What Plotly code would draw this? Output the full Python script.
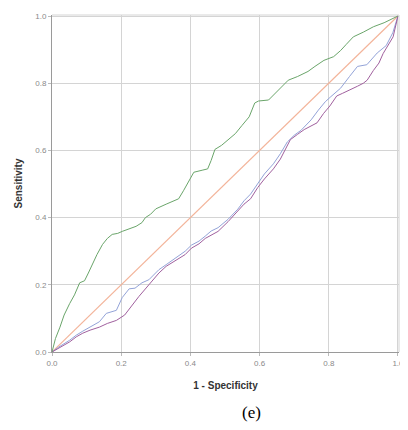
import plotly.graph_objects as go

# ---- data ----
green_x = [0, 0.01, 0.023, 0.035, 0.051, 0.065, 0.08, 0.094, 0.105, 0.117, 0.13, 0.146, 0.16, 0.174,
           0.19, 0.203, 0.22, 0.243, 0.26, 0.27, 0.285, 0.3, 0.33, 0.366, 0.38, 0.394, 0.41, 0.434,
           0.45, 0.46, 0.471, 0.49, 0.511, 0.53, 0.549, 0.57, 0.586, 0.597, 0.626, 0.65, 0.683, 0.71,
           0.74, 0.76, 0.786, 0.814, 0.834, 0.85, 0.871, 0.9, 0.929, 0.96, 0.98, 1.0]
green_y = [0, 0.04, 0.074, 0.11, 0.144, 0.17, 0.206, 0.212, 0.235, 0.262, 0.29, 0.32, 0.338, 0.35,
           0.353, 0.359, 0.365, 0.374, 0.385, 0.40, 0.41, 0.426, 0.44, 0.456, 0.48, 0.506, 0.535, 0.541,
           0.545, 0.57, 0.603, 0.615, 0.632, 0.65, 0.674, 0.70, 0.741, 0.747, 0.75, 0.775, 0.809, 0.82,
           0.835, 0.85, 0.868, 0.879, 0.897, 0.915, 0.938, 0.952, 0.968, 0.98, 0.99, 1.0]

purple_x = [0, 0.02, 0.051, 0.07, 0.089, 0.11, 0.137, 0.16, 0.186, 0.21, 0.231, 0.251, 0.28, 0.309,
            0.33, 0.366, 0.385, 0.403, 0.425, 0.443, 0.46, 0.48, 0.509, 0.537, 0.555, 0.574, 0.595,
            0.614, 0.64, 0.66, 0.689, 0.71, 0.729, 0.766, 0.785, 0.803, 0.823, 0.84, 0.86, 0.883, 0.9,
            0.911, 0.929, 0.945, 0.957, 0.97, 0.986, 1.0]
purple_y = [0, 0.012, 0.03, 0.045, 0.056, 0.065, 0.074, 0.085, 0.094, 0.11, 0.14, 0.165, 0.2, 0.235,
            0.255, 0.279, 0.29, 0.309, 0.322, 0.338, 0.348, 0.359, 0.388, 0.418, 0.44, 0.456, 0.49,
            0.515, 0.545, 0.574, 0.632, 0.648, 0.662, 0.682, 0.71, 0.732, 0.762, 0.77, 0.779, 0.791, 0.8,
            0.809, 0.838, 0.86, 0.888, 0.91, 0.938, 1.0]

blue_x = [0, 0.02, 0.051, 0.07, 0.089, 0.11, 0.137, 0.157, 0.186, 0.203, 0.223, 0.24, 0.26, 0.28,
          0.309, 0.33, 0.366, 0.385, 0.403, 0.425, 0.443, 0.46, 0.48, 0.509, 0.537, 0.555, 0.574,
          0.595, 0.614, 0.64, 0.66, 0.68, 0.7, 0.72, 0.749, 0.77, 0.79, 0.806, 0.834, 0.86, 0.883,
          0.91, 0.94, 0.966, 0.985, 1.0]
blue_y = [0, 0.015, 0.035, 0.05, 0.062, 0.075, 0.09, 0.115, 0.124, 0.162, 0.188, 0.19, 0.206, 0.215,
          0.245, 0.26, 0.285, 0.3, 0.318, 0.33, 0.345, 0.36, 0.37, 0.395, 0.425, 0.45, 0.47, 0.5,
          0.53, 0.56, 0.59, 0.625, 0.645, 0.66, 0.691, 0.72, 0.745, 0.76, 0.785, 0.82, 0.85, 0.855,
          0.89, 0.912, 0.95, 1.0]

ref_x = [0, 1]
ref_y = [0, 1]

tick_vals = [0, 0.2, 0.4, 0.6, 0.8, 1.0]
tick_text = ["0.0", "0.2", "0.4", "0.6", "0.8", "1.0"]

fig = go.Figure()
fig.add_trace(go.Scatter(x=ref_x, y=ref_y, mode="lines", line=dict(color="#f3b49a", width=1.2)))
fig.add_trace(go.Scatter(x=blue_x, y=blue_y, mode="lines", line=dict(color="#93a3d8", width=1)))
fig.add_trace(go.Scatter(x=purple_x, y=purple_y, mode="lines", line=dict(color="#a0609e", width=1)))
fig.add_trace(go.Scatter(x=green_x, y=green_y, mode="lines", line=dict(color="#6aa56a", width=1)))

axis_common = dict(
    range=[0, 1.003], tickvals=tick_vals, ticktext=tick_text,
    showgrid=True, gridcolor="#d4d4d4", gridwidth=1,
    showline=True, linecolor="#9a9a9a", linewidth=1,
    zeroline=False, ticks="outside", ticklen=3, tickcolor="#bbbbbb",
    tickfont=dict(family="Liberation Sans", size=8, color="#8a8a8a"),
)

# The page body has an 8px margin, so the figure is sized/offset to land
# where the reference plot area sits inside the 408x430 window.
fig.update_layout(
    width=400, height=422,
    margin=dict(l=44, r=6, t=4, b=78),
    paper_bgcolor="white", plot_bgcolor="white",
    showlegend=False,
    xaxis=dict(**axis_common,
               title=dict(text="<b>1 - Specificity</b>", standoff=15,
                          font=dict(family="Liberation Sans", size=10, color="#333333"))),
    yaxis=dict(**axis_common,
               title=dict(text="<b>Sensitivity</b>", standoff=10,
                          font=dict(family="Liberation Sans", size=10, color="#333333"))),
    shapes=[
        dict(type="line", xref="paper", yref="paper", x0=0, x1=1, y0=1, y1=1,
             line=dict(color="#d4d4d4", width=1)),
        dict(type="line", xref="paper", yref="paper", x0=1, x1=1, y0=0, y1=1,
             line=dict(color="#d4d4d4", width=1)),
    ],
    annotations=[
        dict(text="(e)", xref="paper", yref="paper", x=0.574, y=-0.179,
             xanchor="center", yanchor="middle", showarrow=False,
             font=dict(family="Liberation Serif", size=17, color="#000000")),
    ],
)

fig.write_html("out.html")
